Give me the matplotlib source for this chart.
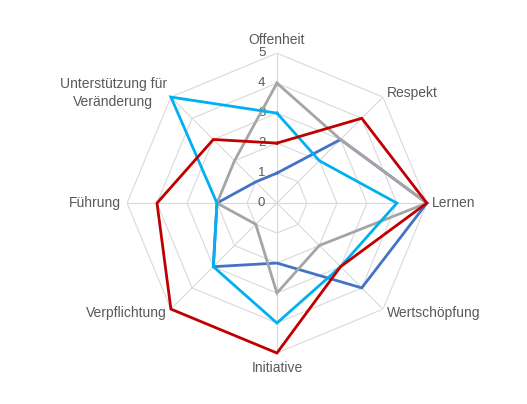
"""
Radar chart: eight culture dimensions, four series (0-5 scale).
"""

import matplotlib.pyplot as plt
import numpy as np

plt.rcParams['font.family'] = ['Liberation Sans', 'DejaVu Sans']

categories = ['Offenheit', 'Respekt', 'Lernen', 'Wertschöpfung', 'Initiative',
              'Verpflichtung', 'Führung', 'Unterstützung für\nVeränderung']

blue_values = [1, 3, 5, 4, 2, 3, 2, 1]
gray_values = [4, 3, 5, 2, 3, 1, 2, 2]
cyan_values = [3, 2, 4, 3, 4, 3, 2, 5]
red_values = [2, 4, 5, 3, 5, 5, 4, 3]

r_ticks = [0, 1, 2, 3, 4, 5]

series = [
    (blue_values, '#4472C4'),
    (gray_values, '#A5A5A5'),
    (cyan_values, '#00B0F0'),
    (red_values, '#C00000'),
]

n = len(categories)
angles = np.linspace(0, 2 * np.pi, n, endpoint=False)

fig = plt.figure(figsize=(5.27, 4.04), dpi=100)
ax = fig.add_axes([0.241, 0.126, 0.569, 0.7426], projection='polar')
ax.set_theta_zero_location('N')
ax.set_theta_direction(-1)
ax.set_ylim(0, 5)
ax.grid(False)
ax.spines['polar'].set_visible(False)
ax.set_xticks([])
ax.set_yticks([])

# octagon grid rings and spokes
closed = np.append(angles, angles[0])
for r in r_ticks[1:]:
    ax.plot(closed, [r] * (n + 1), color='#D9D9D9', lw=0.8, zorder=1)
for a in angles:
    ax.plot([a, a], [0, 5], color='#D9D9D9', lw=0.8, zorder=1)

# series
for vals, color in series:
    ax.plot(closed, vals + [vals[0]], color=color, lw=2.0, zorder=3,
            solid_joinstyle='miter', clip_on=False)

# radial tick labels, left of the top spoke
for r in r_ticks:
    ax.annotate(str(r), xy=(0, r), xytext=(-11, 0), textcoords='offset points',
                ha='center', va='center', fontsize=9.5, color='#595959', zorder=2)

# category labels
label_pos = [
    (5.45, 'center', 'center'),
    (5.18, 'left', 'center'),
    (5.17, 'left', 'center'),
    (5.18, 'left', 'center'),
    (5.5, 'center', 'center'),
    (5.18, 'right', 'center'),
    (5.2, 'right', 'center'),
    (5.2, 'right', 'center'),
]
for a, name, (r, ha, va) in zip(angles, categories, label_pos):
    ax.text(a, r, name, ha=ha, va=va, fontsize=10, color='#595959',
            multialignment='center', linespacing=1.4)

fig.savefig('out.png', dpi=100)
